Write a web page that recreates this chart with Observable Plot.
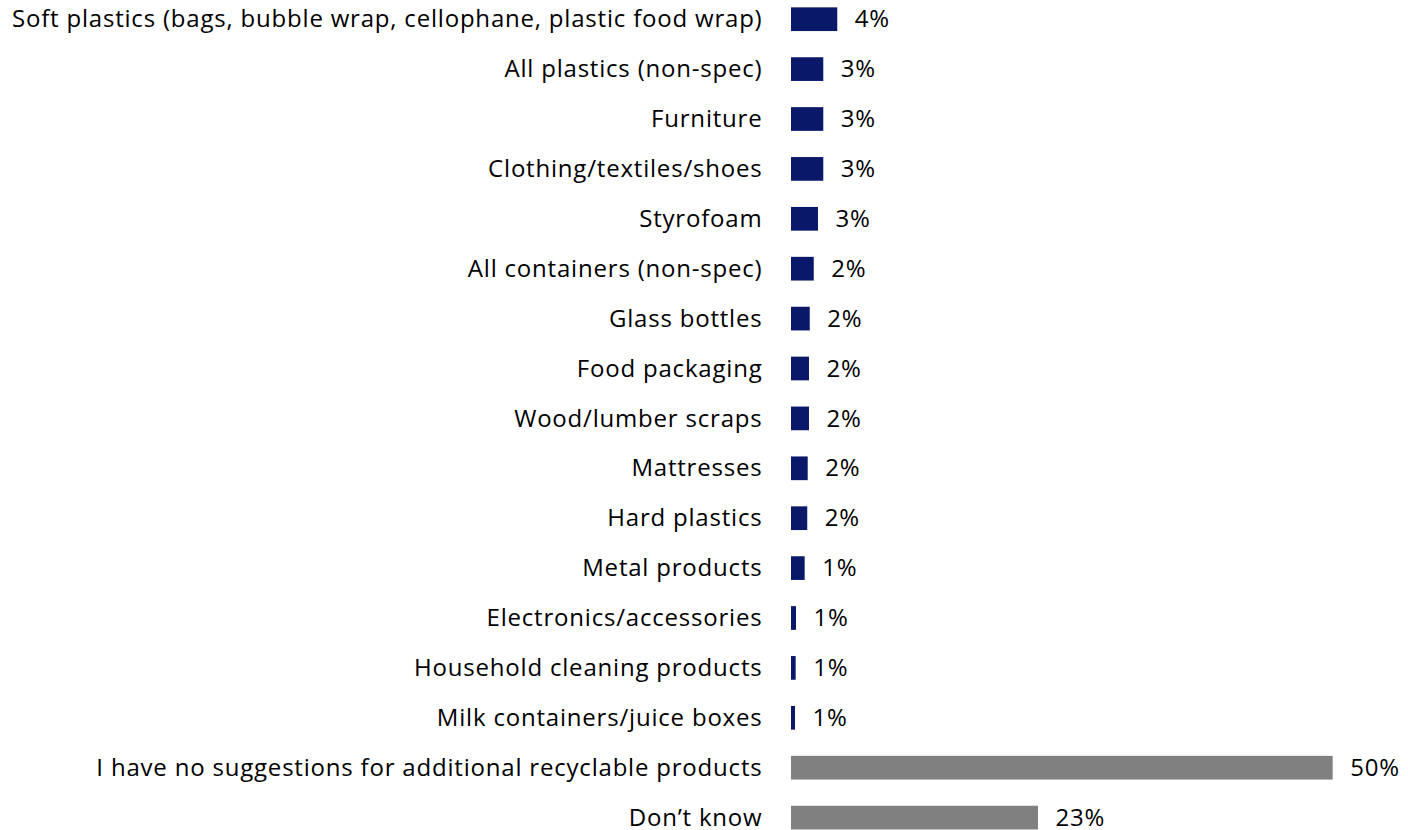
<!DOCTYPE html>
<html>
<head>
<meta charset="utf-8">
<script src="https://cdn.jsdelivr.net/npm/d3@7"></script>
<script src="https://cdn.jsdelivr.net/npm/@observablehq/plot@0.6"></script>
<style>
  html, body { margin: 0; padding: 0; background: #fff; }
  #chart svg { display: block; }
</style>
</head>
<body>
<div id="chart"></div>
<script>
const categories = [
  "Soft plastics (bags, bubble wrap, cellophane, plastic food wrap)",
  "All plastics (non-spec)",
  "Furniture",
  "Clothing/textiles/shoes",
  "Styrofoam",
  "All containers (non-spec)",
  "Glass bottles",
  "Food packaging",
  "Wood/lumber scraps",
  "Mattresses",
  "Hard plastics",
  "Metal products",
  "Electronics/accessories",
  "Household cleaning products",
  "Milk containers/juice boxes",
  "I have no suggestions for additional recyclable products",
  "Don\u2019t know"
];
const values = [4.27, 2.98, 2.98, 2.98, 2.49, 2.1, 1.73, 1.66, 1.66, 1.54, 1.5, 1.26, 0.46, 0.43, 0.37, 50, 22.8];
const labels = ["4%", "3%", "3%", "3%", "3%", "2%", "2%", "2%", "2%", "2%", "2%", "1%", "1%", "1%", "1%", "50%", "23%"];
const groups = ["item","item","item","item","item","item","item","item","item","item","item","item","item","item","item","other","other"];

const data = categories.map((c, i) => ({category: c, value: values[i], label: labels[i], group: groups[i]}));

const FONT = "'Open Sans', Lato, sans-serif";
const chart = Plot.plot({
  width: 1408,
  height: 830,
  marginLeft: 791,
  marginRight: 0,
  marginTop: 7.35,
  marginBottom: 0.55,
  style: {fontFamily: FONT, fontSize: "24px", color: "#000", background: "#fff", letterSpacing: "0.8px"},
  x: {domain: [0, 61.2], range: [791, 1454], axis: null},
  y: {domain: categories, paddingInner: 0.525, paddingOuter: 0, round: false, label: null},
  color: {domain: ["item", "other"], range: ["#0a186a", "#808080"]},
  marks: [
    Plot.barX(data, {x: "value", y: "category", fill: "group"}),
    Plot.text(data, {x: "value", y: "category", text: "label", textAnchor: "start", dx: 17, fill: "#000", fontSize: 24}),
    Plot.axisY({tickSize: 0, tickPadding: 29, fontSize: 24, fill: "#000", label: null})
  ]
});
document.getElementById("chart").append(chart);
</script>
</body>
</html>
